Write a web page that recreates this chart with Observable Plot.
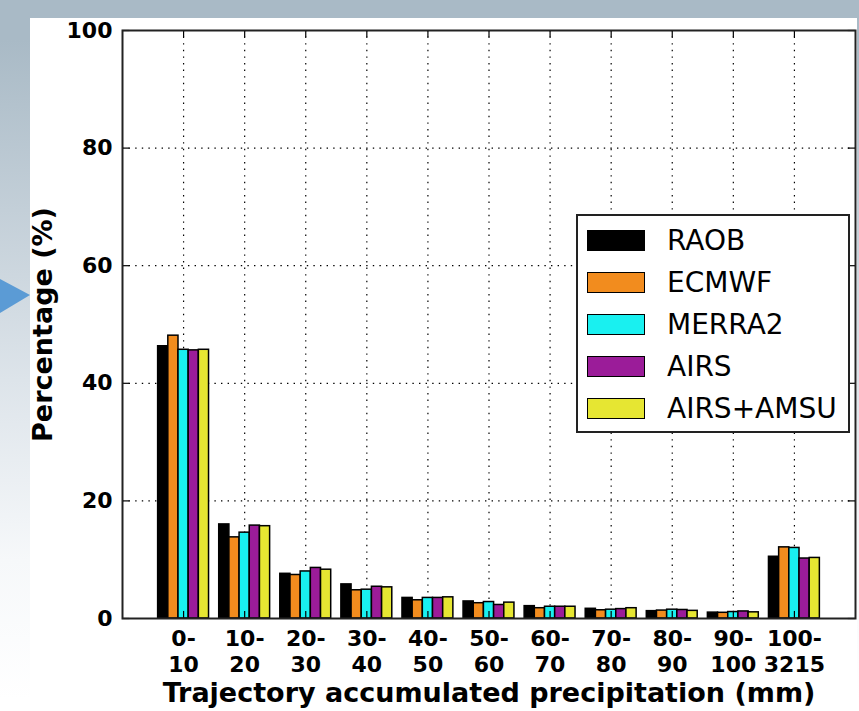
<!DOCTYPE html>
<html>
<head>
<meta charset="utf-8">
<script src="https://cdn.jsdelivr.net/npm/d3@7"></script>
<script src="https://cdn.jsdelivr.net/npm/@observablehq/plot@0.6"></script>
<style>
  html, body { margin: 0; padding: 0; }
  body {
    width: 859px; height: 711px; position: relative; overflow: hidden;
    background: linear-gradient(to bottom, #a9bac6 0px, #a9bac6 40px, #dde4ea 380px, #f6f8fa 560px, #ffffff 700px);
    font-family: "DejaVu Sans", sans-serif;
  }
  #paper { position: absolute; left: 30px; top: 18px; width: 827px; height: 693px; background: #ffffff; }
  #arrow { position: absolute; left: 0; top: 0; }
  #chart { position: absolute; left: 0; top: 0; }
  #legend {
    position: absolute; left: 576px; top: 214px; width: 270px; height: 215px;
    border: 2px solid #222; background: #fff; box-sizing: content-box;
  }
  .entry { position: absolute; left: 9px; height: 42px; display: flex; align-items: center; }
  .sw { width: 56px; height: 19px; border: 1.5px solid #000; margin-right: 22px; }
  .lab { font-size: 28px; color: #000; font-family: "DejaVu Sans", sans-serif; }
</style>
</head>
<body>
<div id="paper"></div>
<svg id="arrow" width="40" height="711"><polygon points="0,279 30,295 0,313" fill="#5b9bd5"/></svg>
<div id="chart"></div>
<div id="legend"></div>
<script>
// ---- data ----
const categories = ["0-10","10-20","20-30","30-40","40-50","50-60","60-70","70-80","80-90","90-100","100-3215"];
const tickTop    = ["0-","10-","20-","30-","40-","50-","60-","70-","80-","90-","100-"];
const tickBottom = ["10","20","30","40","50","60","70","80","90","100","3215"];
const seriesNames = ["RAOB","ECMWF","MERRA2","AIRS","AIRS+AMSU"];
const seriesColors = ["#000000","#f28c1e","#19f0f0","#9b1c99","#e6e632"];
const raob     = [46.3, 16.0, 7.6, 5.8, 3.5, 2.9, 2.1, 1.65, 1.25, 1.0, 10.5];
const ecmwf    = [48.1, 13.8, 7.4, 4.8, 3.1, 2.6, 1.75, 1.4, 1.35, 0.97, 12.1];
const merra2   = [45.7, 14.6, 8.0, 4.9, 3.5, 2.8, 2.0, 1.5, 1.5, 1.1, 12.0];
const airs     = [45.6, 15.8, 8.6, 5.4, 3.5, 2.3, 2.0, 1.6, 1.45, 1.2, 10.2];
const airsAmsu = [45.7, 15.7, 8.3, 5.3, 3.6, 2.7, 2.0, 1.75, 1.3, 1.05, 10.3];
const yTicks = [0, 20, 40, 60, 80, 100];
const yLabel = "Percentage (%)";
const xLabel = "Trajectory accumulated precipitation (mm)";

// ---- table ----
const allSeries = [raob, ecmwf, merra2, airs, airsAmsu];
const rows = [];
categories.forEach((c, i) => {
  allSeries.forEach((vals, k) => rows.push({i, k, category: c, series: seriesNames[k], value: vals[i]}));
});
const barW = 1 / 6;
const xTickPos = categories.map((c, i) => i + 1);
const xDomain = [0, categories.length + 1];

const grid = {stroke: "#000", strokeOpacity: 1, strokeWidth: 1.2, strokeDasharray: "1.4,5.2"};

const chart = Plot.plot({
  width: 859,
  height: 711,
  marginLeft: 122,
  marginRight: 4,
  marginTop: 30,
  marginBottom: 93,
  style: {background: "transparent", fontFamily: "DejaVu Sans, sans-serif", color: "#000"},
  x: {domain: xDomain, axis: null},
  y: {domain: [0, 100], axis: null},
  color: {domain: seriesNames, range: seriesColors},
  marks: [
    Plot.gridY(yTicks.filter(t => t > 0 && t < 100), grid),
    Plot.gridX(xTickPos, grid),
    Plot.rect(rows, {
      x1: d => d.i + 1 + (d.k - 2.5) * barW,
      x2: d => d.i + 1 + (d.k - 1.5) * barW,
      y1: 0,
      y2: "value",
      fill: "series",
      stroke: "#000",
      strokeWidth: 1.5
    }),
    // inward ticks
    Plot.ruleY(yTicks, {x1: xDomain[0], x2: xDomain[0] + 0.12, stroke: "#000", strokeWidth: 1.2}),
    Plot.ruleY(yTicks, {x1: xDomain[1] - 0.12, x2: xDomain[1], stroke: "#000", strokeWidth: 1.2}),
    Plot.ruleX(xTickPos, {y1: 0, y2: 1.2, stroke: "#000", strokeWidth: 1.2}),
    Plot.ruleX(xTickPos, {y1: 98.8, y2: 100, stroke: "#000", strokeWidth: 1.2}),
    Plot.frame({stroke: "#222", strokeWidth: 2}),
    Plot.axisY(yTicks, {anchor: "left", tickSize: 0, tickPadding: 10, fontSize: 22, fontWeight: "bold", label: null}),
    Plot.axisX(xTickPos, {
      anchor: "bottom", tickSize: 0, tickPadding: 9, fontSize: 22, fontWeight: "bold", label: null,
      lineHeight: 1.18,
      tickFormat: t => tickTop[t - 1] + "\n" + tickBottom[t - 1]
    }),
    Plot.text([xLabel], {frameAnchor: "bottom", lineAnchor: "middle", textAnchor: "middle", dy: 75, fontSize: 27, fontWeight: "bold", text: d => d}),
    Plot.text([yLabel], {frameAnchor: "left", lineAnchor: "middle", textAnchor: "middle", dx: -79, rotate: -90, fontSize: 27, fontWeight: "bold", text: d => d})
  ]
});
document.getElementById("chart").appendChild(chart);

// ---- legend ----
const legend = document.getElementById("legend");
seriesNames.forEach((name, k) => {
  const e = document.createElement("div");
  e.className = "entry";
  e.style.top = (3 + k * 42.1) + "px";
  const sw = document.createElement("div");
  sw.className = "sw";
  sw.style.background = seriesColors[k];
  const lab = document.createElement("span");
  lab.className = "lab";
  lab.textContent = name;
  e.appendChild(sw); e.appendChild(lab);
  legend.appendChild(e);
});
</script>
</body>
</html>
